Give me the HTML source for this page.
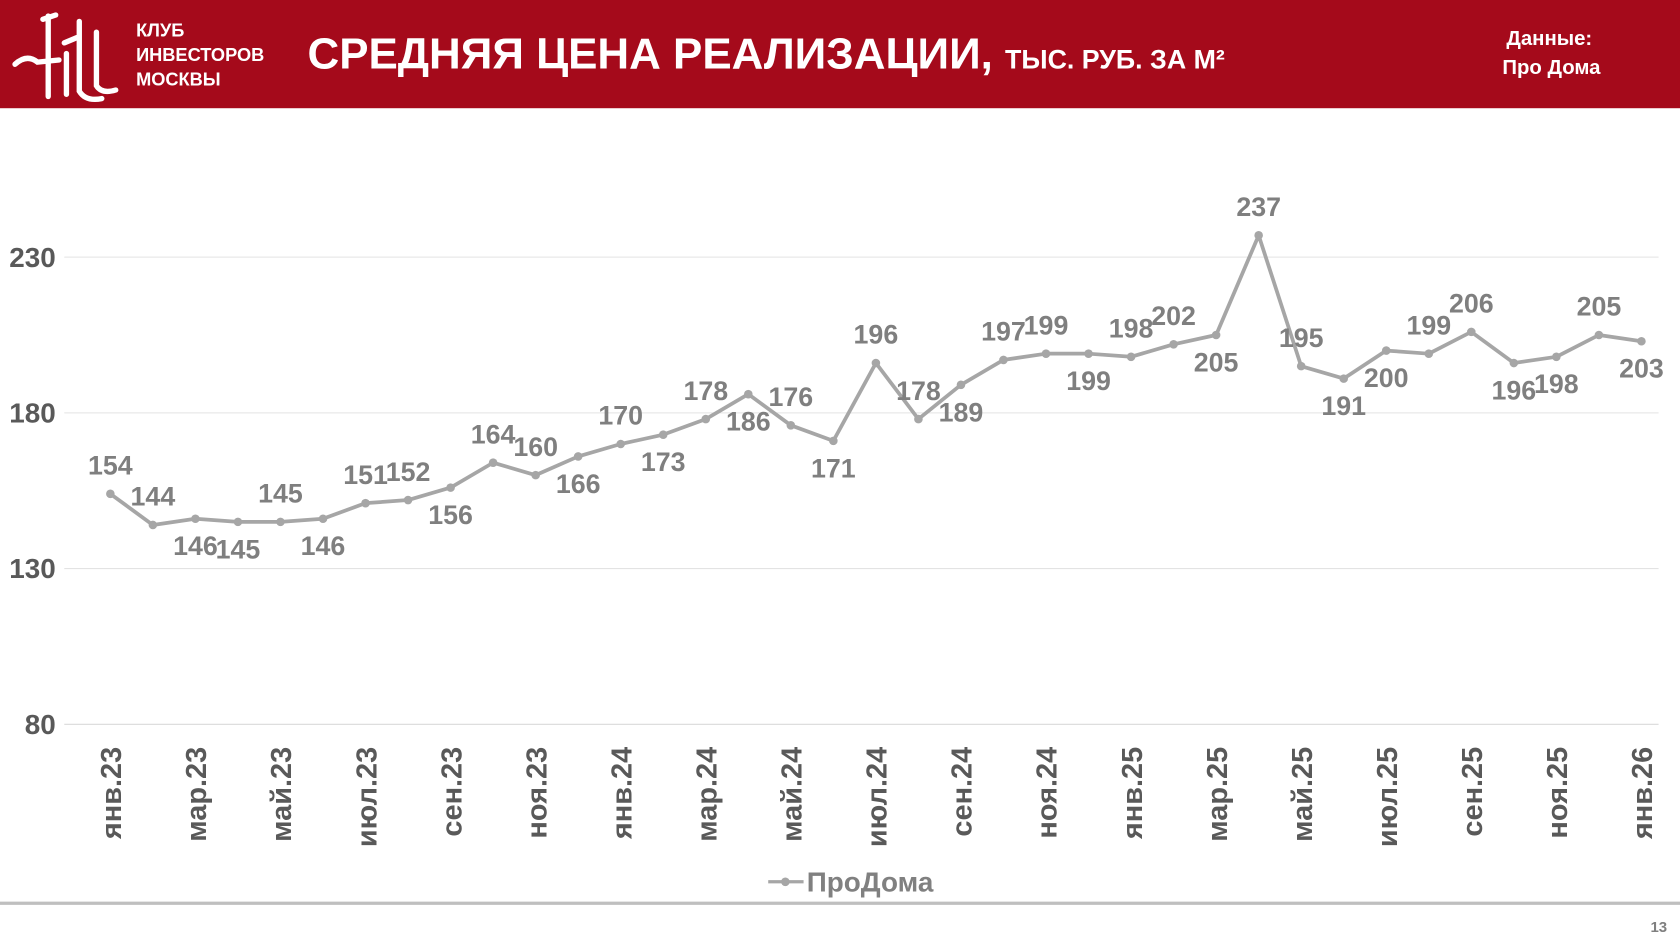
<!DOCTYPE html>
<html><head><meta charset="utf-8"><style>
html,body{margin:0;padding:0;background:#fff;width:1680px;height:945px;overflow:hidden}
svg{display:block}
text{font-family:"Liberation Sans",sans-serif}
</style></head><body>
<svg id="chart" width="1680" height="945" viewBox="0 0 1568 882" xmlns="http://www.w3.org/2000/svg">
<rect x="0" y="0" width="1568" height="101" fill="#a50a1b"/>
<g fill="none" stroke="#fff" stroke-width="5" stroke-linecap="round">
<path d="M14 60 Q25 50 35 58 L55 56"/><path d="M45 15 L45 90"/><path d="M40 18 L52 14"/>
<path d="M60 40 L72 35"/><path d="M74 20 L74 85 Q80 95 95 92"/><path d="M90 30 L90 80 Q95 88 108 84"/>
<path d="M62 50 L62 88"/>
</g>
<text fill="#fff" font-size="17" font-weight="bold"><tspan x="127" y="34">КЛУБ</tspan><tspan x="127" y="57">ИНВЕСТОРОВ</tspan><tspan x="127" y="80">МОСКВЫ</tspan></text>
<text x="287" y="64" fill="#fff" font-size="41" font-weight="bold">СРЕДНЯЯ ЦЕНА РЕАЛИЗАЦИИ, <tspan font-size="25">ТЫС. РУБ. ЗА М²</tspan></text>
<text fill="#fff" font-size="19" font-weight="bold" text-anchor="middle"><tspan x="1446" y="42">Данные:</tspan><tspan x="1448" y="69">Про Дома</tspan></text>
<g id="grid"></g><g id="axes"></g><g id="series"></g>
<g>
<line x1="717" y1="823" x2="750" y2="823" stroke="#a6a6a6" stroke-width="3"/><circle cx="733" cy="823" r="4" fill="#a6a6a6"/>
<text x="753" y="832" fill="#808080" font-size="26" font-weight="bold">ПроДома</text></g>
<line x1="0" y1="843" x2="1568" y2="843" stroke="#bfbfbf" stroke-width="3"/>
<text x="1556" y="870" text-anchor="end" fill="#808080" font-size="14" font-weight="bold">13</text>
</svg>
<script>
const categories=["янв.23","фев.23","мар.23","апр.23","май.23","июн.23","июл.23","авг.23","сен.23","окт.23","ноя.23","дек.23","янв.24","фев.24","мар.24","апр.24","май.24","июн.24","июл.24","авг.24","сен.24","окт.24","ноя.24","дек.24","янв.25","фев.25","мар.25","апр.25","май.25","июн.25","июл.25","авг.25","сен.25","окт.25","ноя.25","дек.25","янв.26"];
const values=[154,144,146,145,145,146,151,152,156,164,160,166,170,173,178,186,176,171,196,178,189,197,199,199,198,202,205,237,195,191,200,199,206,196,198,205,203];
const labelSide=["a","a","b","b","a","b","a","a","b","a","a","b","a","b","a","b","a","b","a","a","b","a","a","b","a","a","b","a","a","b","b","a","a","b","b","a","b"];
const yTicks=[80,130,180,230];
const NS="http://www.w3.org/2000/svg";
const x0=103,x1=1532,yBase=676,yPer=(676-240)/150;
const xs=i=>x0+i*(x1-x0)/(categories.length-1);
const ys=v=>yBase-(v-80)*yPer;
function mk(t,a,p){const e=document.createElementNS(NS,t);for(const k in a)e.setAttribute(k,a[k]);p.appendChild(e);return e;}
const grid=document.getElementById('grid'),axes=document.getElementById('axes'),ser=document.getElementById('series');
yTicks.forEach(v=>{
 const l=mk('line',{x1:60,x2:1548,y1:ys(v),y2:ys(v),stroke:v===80?'#d9d9d9':'#e3e3e3','stroke-width':1},grid);
 
 
 const t=mk('text',{x:52,y:ys(v)+9,'text-anchor':'end',fill:'#595959','font-size':26,'font-weight':'bold'},axes);
 t.textContent=v;
 
 
});
categories.forEach((c,i)=>{
 if(i%2)return;
 const t=mk('text',{transform:`translate(${xs(i)+10},${697}) rotate(-90)`,'text-anchor':'end',fill:'#595959','font-size':27,'font-weight':'bold'},axes);
 t.textContent=c;
 
 
});
const line=mk('polyline',{points:values.map((v,i)=>xs(i)+','+ys(v)).join(' '),fill:'none',stroke:'#a6a6a6','stroke-width':3.5,'stroke-linejoin':'round'},ser);


values.forEach((v,i)=>{
 const p=mk('circle',{cx:xs(i),cy:ys(v),r:4,fill:'#a6a6a6'},ser);
 
 
 const t=mk('text',{x:xs(i),y:ys(v)+(labelSide[i]==='a'?-18:34),'text-anchor':'middle',fill:'#7f7f7f','font-size':25,'font-weight':'bold'},ser);
 t.textContent=v;
 
 
});
</script>
</body></html>
